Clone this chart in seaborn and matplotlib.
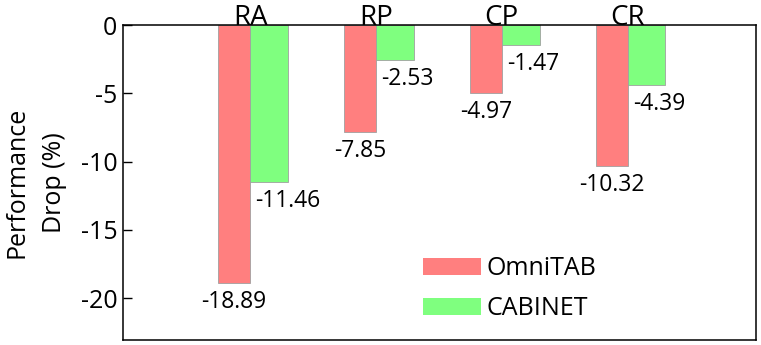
import pandas as pd
import matplotlib
matplotlib.use("Agg")
import matplotlib.pyplot as plt
import seaborn as sns
from matplotlib.patches import Patch

# data
metrics = ["RA", "RP", "CP", "CR"]
omnitab_drop = [-18.89, -7.85, -4.97, -10.32]
cabinet_drop = [-11.46, -2.53, -1.47, -4.39]
models = ["OmniTAB", "CABINET"]
y_ticks = [0, -5, -10, -15, -20]

colors = {"OmniTAB": "#FF7F7F", "CABINET": "#7FFF7F"}

df = pd.DataFrame({
    "metric": metrics * 2,
    "drop": omnitab_drop + cabinet_drop,
    "model": [models[0]] * len(metrics) + [models[1]] * len(metrics),
})

sns.set_style("white")
plt.rcParams["font.family"] = ["Open Sans", "DejaVu Sans"]
plt.rcParams["axes.unicode_minus"] = False
for k in ["text.color", "axes.labelcolor", "xtick.color", "ytick.color"]:
    plt.rcParams[k] = "black"

fig = plt.figure(figsize=(7.61, 3.45), dpi=100)
ax = fig.add_axes([123 / 761, 5 / 345, 633 / 761, 315 / 345])

sns.barplot(data=df, x="metric", y="drop", hue="model", order=metrics,
            hue_order=models, palette=colors, saturation=1, width=0.6,
            edgecolor="#a0a0a0", linewidth=0.6, legend=False, ax=ax)

# red bars a bit narrower than green, like in the original
w_red, w_green = 0.254, 0.30
for bar in ax.containers[0]:
    c = bar.get_x() + bar.get_width()
    bar.set_x(c - w_red)
    bar.set_width(w_red)
for bar in ax.containers[1]:
    bar.set_width(w_green)

# value labels
for i, v in enumerate(omnitab_drop):
    ax.annotate(f"{v:.2f}", xy=(i - w_red / 2, v), xytext=(0, -7),
                textcoords="offset pixels", ha="center", va="top", fontsize=16.5)
for i, v in enumerate(cabinet_drop):
    ax.annotate(f"{v:.2f}", xy=(i, v), xytext=(5, -7),
                textcoords="offset pixels", ha="left", va="top", fontsize=16.5)

ax.set_xlim(-1.01, 4.02)
ax.set_ylim(-23.05, 0)
ax.set_yticks(y_ticks)
ax.set_yticklabels([str(t) for t in y_ticks])

ax.xaxis.tick_top()
ax.xaxis.set_label_position("top")
ax.set_xlabel("")
ax.tick_params(axis="x", length=0, pad=-5, labelsize=20)
ax.tick_params(axis="y", direction="in", length=6.5, width=1, pad=4,
               labelsize=18, left=True)

ax.set_ylabel("Performance\nDrop (%)", fontsize=18, labelpad=10, linespacing=1.65)

for s in ax.spines.values():
    s.set_visible(True)
    s.set_color("black")
    s.set_linewidth(1.1)

handles = [Patch(facecolor=colors[m], edgecolor="none", label=m) for m in models]
ax.legend(handles=handles, loc="center left", bbox_to_anchor=(0.474, 0.163),
          frameon=False, fontsize=18, handlelength=2.3, handleheight=0.72,
          handletextpad=0.25, labelspacing=0.6, borderpad=0, borderaxespad=0)

fig.savefig("out.png", dpi=100)
